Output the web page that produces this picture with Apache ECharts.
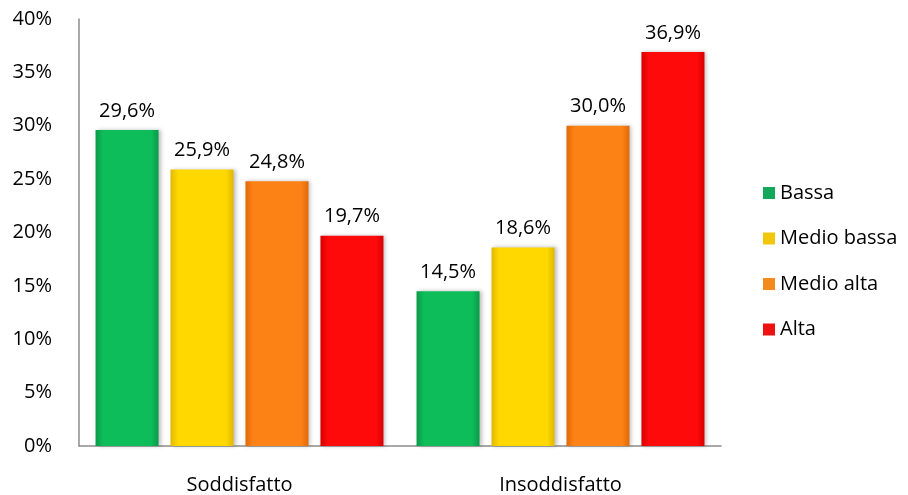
<!DOCTYPE html>
<html><head><meta charset="utf-8">
<script src="https://cdn.jsdelivr.net/npm/echarts@6/dist/echarts.min.js"></script>
<style>html,body{margin:0;padding:0;background:#fff}#c{width:908px;height:495px}</style>
</head><body><div id="c"></div>
<script>
const categories = ['Soddisfatto', 'Insoddisfatto'];
const seriesNames = ['Bassa', 'Medio bassa', 'Medio alta', 'Alta'];
const bassa = [29.6, 14.5];
const medioBassa = [25.9, 18.6];
const medioAlta = [24.8, 30.0];
const alta = [19.7, 36.9];
const yTicks = [0, 5, 10, 15, 20, 25, 30, 35, 40];

const values = [bassa, medioBassa, medioAlta, alta];
const colors = [
  ['#0a9a48', '#0dbd5a', '#0a9a48'],
  ['#e0b800', '#ffd800', '#e0b800'],
  ['#e06a08', '#fd8216', '#e06a08'],
  ['#d80000', '#ff0a0a', '#d80000']
];
const legendColors = ['#13a85a', '#f2c60a', '#f28a1e', '#ee1111'];
const FONT = '"Open Sans", "Noto Sans", sans-serif';
const FS = 20;

const chart = echarts.init(document.getElementById('c'), null, {renderer: 'canvas'});
chart.setOption({
  animation: false,
  backgroundColor: '#fff',
  grid: {left: 79, right: 187, top: 19, bottom: 49, containLabel: false},
  legend: {
    orient: 'vertical', left: 758, top: 178, itemGap: 25.5,
    itemWidth: 12, itemHeight: 12, icon: 'rect',
    textStyle: {fontFamily: FONT, fontSize: FS, lineHeight: 20, color: '#000'},
    data: seriesNames.map((n, i) => ({name: n, itemStyle: {color: legendColors[i]}}))
  },
  xAxis: {
    type: 'category', data: categories,
    axisLine: {lineStyle: {color: '#8c8c8c', width: 1.5}},
    axisTick: {show: false},
    axisLabel: {fontFamily: FONT, fontSize: FS, color: '#000', margin: 29}
  },
  yAxis: {
    type: 'value', min: yTicks[0], max: yTicks[yTicks.length - 1], interval: 5,
    axisLine: {show: true, lineStyle: {color: '#8c8c8c', width: 1.5}},
    axisTick: {show: false},
    splitLine: {show: false},
    axisLabel: {fontFamily: FONT, fontSize: FS, color: '#000', margin: 27, formatter: v => v + '%'}
  },
  series: seriesNames.map((n, i) => ({
    name: n, type: 'bar', data: values[i],
    barWidth: 63, barGap: '19%',
    itemStyle: {
      color: new echarts.graphic.LinearGradient(0, 0, 1, 0, [
        {offset: 0, color: colors[i][0]}, {offset: 0.12, color: colors[i][1]},
        {offset: 0.88, color: colors[i][1]}, {offset: 1, color: colors[i][2]}
      ]),
      shadowColor: 'rgba(0,0,0,0.25)', shadowBlur: 4, shadowOffsetX: 2, shadowOffsetY: 0
    },
    label: {
      show: true, position: 'top', distance: 9,
      fontFamily: FONT, fontSize: FS, color: '#000',
      formatter: p => p.value.toFixed(1).replace('.', ',') + '%'
    }
  }))
});
</script></body></html>
